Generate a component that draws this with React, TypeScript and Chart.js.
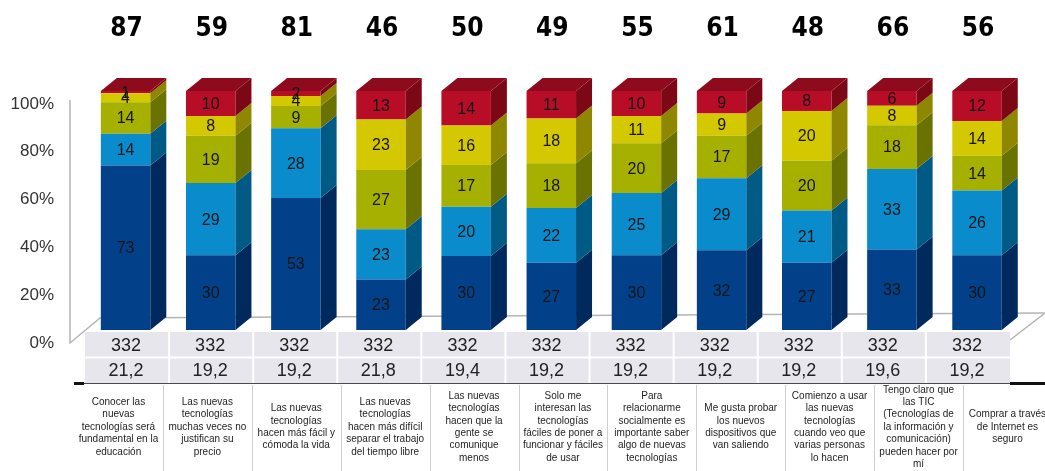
import React, { useEffect, useRef } from "react";
import { Chart, registerables } from "chart.js";

Chart.register(...registerables);

const categoryLines: string[][] = [
  ["Conocer las", "nuevas", "tecnologías será", "fundamental en la", "educación"],
  ["Las nuevas", "tecnologías", "muchas veces no", "justifican su", "precio"],
  ["Las nuevas", "tecnologías", "hacen más fácil y", "cómoda la vida"],
  ["Las nuevas", "tecnologías", "hacen más difícil", "separar el trabajo", "del tiempo libre"],
  ["Las nuevas", "tecnologías", "hacen que la", "gente se", "comunique", "menos"],
  ["Solo me", "interesan las", "tecnologías", "fáciles de poner a", "funcionar y fáciles", "de usar"],
  ["Para", "relacionarme", "socialmente es", "importante saber", "algo de nuevas", "tecnologías"],
  ["Me gusta probar", "los nuevos", "dispositivos que", "van saliendo"],
  ["Comienzo a usar", "las nuevas", "tecnologías", "cuando veo que", "varias personas", "lo hacen"],
  ["Tengo claro que", "las TIC", "(Tecnologías de", "la información y", "comunicación)", "pueden hacer por", "mí"],
  ["Comprar a través", "de Internet es", "seguro"],
];

const topTotals = [87, 59, 81, 46, 50, 49, 55, 61, 48, 66, 56];
const rowN = ["332", "332", "332", "332", "332", "332", "332", "332", "332", "332", "332"];
const rowMean = ["21,2", "19,2", "19,2", "21,8", "19,4", "19,2", "19,2", "19,2", "19,2", "19,6", "19,2"];

const series1 = [73, 30, 53, 23, 30, 27, 30, 32, 27, 33, 30];
const series2 = [14, 29, 28, 23, 20, 22, 25, 29, 21, 33, 26];
const series3 = [14, 19, 9, 27, 17, 18, 20, 17, 20, 18, 14];
const series4 = [4, 8, 4, 23, 16, 18, 11, 9, 20, 8, 14];
const series5 = [1, 10, 2, 13, 14, 11, 10, 9, 8, 6, 12];

const yTickValues = [0, 20, 40, 60, 80, 100];
const yTickLabels = ["0%", "20%", "40%", "60%", "80%", "100%"];

const allSeries = [series1, series2, series3, series4, series5];
const frontColors = ["#02418a", "#0a8bcb", "#a6b000", "#d4c800", "#b70d26"];
const sideColors = ["#002a5e", "#005a86", "#6b7300", "#8f8700", "#7c0816"];
const topColor = "#8e0b1d";

const DX = 16;
const DY = 13;

const decor = {
  id: "decor",
  beforeDatasetsDraw(chart: any) {
    const ctx = chart.ctx;
    const y = chart.scales.y;
    ctx.save();
    ctx.strokeStyle = "#b4b4b4";
    ctx.lineWidth = 1.5;
    ctx.beginPath();
    ctx.moveTo(70, y.getPixelForValue(100) + 9);
    ctx.lineTo(70, y.getPixelForValue(0) + 13);
    ctx.lineTo(100, y.getPixelForValue(0) - 12);
    ctx.lineTo(1045, y.getPixelForValue(0) - 17);
    ctx.moveTo(1045, y.getPixelForValue(0) - 17);
    ctx.lineTo(1010, y.getPixelForValue(0) + 10);
    ctx.stroke();
    ctx.fillStyle = "#333";
    ctx.font = '17px "Liberation Sans", Arial, sans-serif';
    ctx.textAlign = "right";
    ctx.textBaseline = "middle";
    yTickValues.forEach((v, k) => {
      ctx.fillText(yTickLabels[k], 54, y.getPixelForValue(v) + 13);
    });
    ctx.restore();
  },
  afterDatasetsDraw(chart: any) {
    const ctx = chart.ctx;
    const area = chart.chartArea;
    ctx.save();
    const n = chart.data.labels.length;
    for (let d = 0; d < allSeries.length; d++) {
      const meta = chart.getDatasetMeta(d);
      meta.data.forEach((el: any) => {
        const p = el.getProps(["x", "y", "base", "width"], true);
        const left = p.x - p.width / 2;
        const right = p.x + p.width / 2;
        const top = Math.min(p.y, p.base);
        const bottom = Math.max(p.y, p.base);
        ctx.fillStyle = sideColors[d];
        ctx.beginPath();
        ctx.moveTo(right, top);
        ctx.lineTo(right + DX, top - DY);
        ctx.lineTo(right + DX, bottom - DY);
        ctx.lineTo(right, bottom);
        ctx.closePath();
        ctx.fill();
        if (d === allSeries.length - 1) {
          ctx.fillStyle = topColor;
          ctx.beginPath();
          ctx.moveTo(left, top);
          ctx.lineTo(left + DX, top - DY);
          ctx.lineTo(right + DX, top - DY);
          ctx.lineTo(right, top);
          ctx.closePath();
          ctx.fill();
        }
      });
    }
    ctx.fillStyle = "#151515";
    ctx.font = '16px "Liberation Sans", Arial, sans-serif';
    ctx.textAlign = "center";
    ctx.textBaseline = "middle";
    for (let d = 0; d < allSeries.length; d++) {
      const meta = chart.getDatasetMeta(d);
      meta.data.forEach((el: any, i: number) => {
        const p = el.getProps(["x", "y", "base"], true);
        ctx.fillText(String(allSeries[d][i]), p.x, (p.y + p.base) / 2 + 1);
      });
    }
    const meta0 = chart.getDatasetMeta(0);
    ctx.fillStyle = "#000";
    ctx.font = 'bold 26px "DejaVu Sans Condensed", "DejaVu Sans", sans-serif';
    meta0.data.forEach((el: any, i: number) => {
      ctx.fillText(String(topTotals[i]), el.x + 1, 29);
    });
    const tL = area.left + 2;
    const tR = area.right - 9.6;
    const cw = (tR - tL) / n;
    const r1 = area.bottom + 2;
    const rm = r1 + 25.5;
    const r2 = rm + 25.5;
    ctx.fillStyle = "#e6e6ec";
    ctx.fillRect(tL, r1, tR - tL, r2 - r1);
    ctx.strokeStyle = "#ffffff";
    ctx.lineWidth = 2;
    ctx.beginPath();
    ctx.moveTo(tL, rm);
    ctx.lineTo(tR, rm);
    for (let i = 1; i < n; i++) {
      ctx.moveTo(tL + cw * i, r1);
      ctx.lineTo(tL + cw * i, r2);
    }
    ctx.stroke();
    ctx.fillStyle = "#222";
    ctx.font = '18px "Liberation Sans", Arial, sans-serif';
    for (let i = 0; i < n; i++) {
      const cx = tL + cw * (i + 0.5) - 1;
      ctx.fillText(rowN[i], cx, (r1 + rm) / 2 + 1);
      ctx.fillText(rowMean[i], cx, (rm + r2) / 2 + 1);
    }
    ctx.strokeStyle = "#4a4a4a";
    ctx.lineWidth = 1.2;
    ctx.beginPath();
    ctx.moveTo(75, r2 + 0.5);
    ctx.lineTo(1045, r2 + 0.5);
    ctx.stroke();
    ctx.fillStyle = "#111";
    ctx.fillRect(74, r2 - 1, 10, 3);
    ctx.fillRect(tR, r2 - 1, 1045 - tR, 3);
    const lL = 74;
    const lw = 88.9;
    ctx.strokeStyle = "#cfcfcf";
    ctx.lineWidth = 1;
    ctx.beginPath();
    for (let i = 1; i < n; i++) {
      const x = Math.round(lL + lw * i) + 0.5;
      ctx.moveTo(x, r2 + 2);
      ctx.lineTo(x, 471);
    }
    ctx.stroke();
    ctx.fillStyle = "#1e1e1e";
    ctx.font = '10px "Liberation Sans", Arial, sans-serif';
    const lh = 12.4;
    const cy = 427;
    for (let i = 0; i < n; i++) {
      const lines = categoryLines[i];
      const cx = lL + lw * (i + 0.5);
      const y0 = cy - ((lines.length - 1) * lh) / 2;
      lines.forEach((t, k) => ctx.fillText(t, cx, y0 + k * lh));
    }
    ctx.restore();
  },
};

export default function App() {
  const canvasRef = useRef<HTMLCanvasElement | null>(null);
  useEffect(() => {
    if (!canvasRef.current) return;
    const totals = series1.map((_, i) => allSeries.reduce((s, a) => s + a[i], 0));
    const datasets = allSeries.map((arr, d) => ({
      label: "s" + (d + 1),
      data: arr.map((v, i) => (v / totals[i]) * 100),
      backgroundColor: frontColors[d],
      borderWidth: 0,
      barPercentage: 0.581,
      categoryPercentage: 1,
    }));
    const chart = new Chart(canvasRef.current, {
      type: "bar",
      data: { labels: categoryLines.map((l) => l.join(" ")), datasets },
      options: {
        responsive: false,
        animation: false,
        layout: { padding: { left: 83, right: 25.4, top: 91, bottom: 141 } },
        plugins: { legend: { display: false }, tooltip: { enabled: false } },
        scales: {
          x: { stacked: true, display: false },
          y: { stacked: true, display: false, min: 0, max: 100 },
        },
      },
      plugins: [decor],
    } as any);
    return () => chart.destroy();
  }, []);
  return (
    <div style={{ position: "absolute", left: 0, top: 0, width: 1045, height: 471, background: "#fff" }}>
      <canvas ref={canvasRef} width={1045} height={471} style={{ display: "block" }} />
    </div>
  );
}
